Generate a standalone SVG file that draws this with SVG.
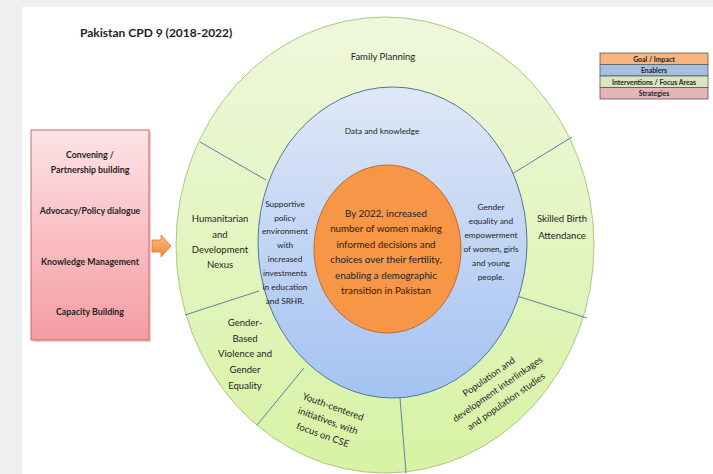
<svg xmlns="http://www.w3.org/2000/svg" width="713" height="474" viewBox="0 0 713 474">
<defs>
<linearGradient id="gGreen" x1="0" y1="0" x2="0" y2="1">
<stop offset="0" stop-color="#eff7dc"/>
<stop offset="1" stop-color="#d7f3a4"/>
</linearGradient>
<linearGradient id="gBlue" x1="0" y1="0" x2="0" y2="1">
<stop offset="0" stop-color="#dfe8f7"/>
<stop offset="1" stop-color="#a4c2f2"/>
</linearGradient>
<linearGradient id="gPink" x1="0" y1="0" x2="0" y2="1">
<stop offset="0" stop-color="#fde3e5"/>
<stop offset="1" stop-color="#f59ca2"/>
</linearGradient>
<linearGradient id="gArrow" x1="0" y1="0" x2="0" y2="1">
<stop offset="0" stop-color="#f9b77e"/>
<stop offset="1" stop-color="#f08a3a"/>
</linearGradient>
</defs>
<style>
text{font-family:Lato,"Liberation Sans",sans-serif;fill:#1e1e1e;text-anchor:middle}
.ring{font-size:9.5px}
.blue{font-size:8.3px}
.core{font-size:9.8px}
.strat{font-size:8.8px;font-weight:bold}
.leg{font-size:6.9px;font-weight:bold}
.div{stroke:#57839f;stroke-width:1;fill:none}
</style>
<rect x="0" y="0" width="713" height="474" fill="#efefef"/>
<rect x="22" y="7" width="691" height="467" fill="#ffffff"/>
<text x="80" y="37" style="font-size:12px;font-weight:bold;text-anchor:start">Pakistan CPD 9 (2018-2022)</text>

<g id="legend">
<rect x="600" y="53" width="108" height="11.5" fill="#f9b47f" stroke="#5a5a5a" stroke-width="0.8"/>
<rect x="600" y="64.5" width="108" height="11.5" fill="#a5bfe1" stroke="#5a5a5a" stroke-width="0.8"/>
<rect x="600" y="76" width="108" height="11.5" fill="#d9e7c1" stroke="#5a5a5a" stroke-width="0.8"/>
<rect x="600" y="87.5" width="108" height="11.5" fill="#e4b4b8" stroke="#5a5a5a" stroke-width="0.8"/>
<text class="leg" x="654" y="61.5">Goal / Impact</text>
<text class="leg" x="654" y="73">Enablers</text>
<text class="leg" x="654" y="84.5">Interventions / Focus Areas</text>
<text class="leg" x="654" y="96">Strategies</text>
</g>

<g id="strategies">
<rect x="33" y="132" width="118" height="210" fill="#d9a0a0" opacity="0.5"/>
<rect x="31" y="130" width="118" height="210" fill="url(#gPink)" stroke="#c9676c" stroke-width="1"/>
<text class="strat" x="90" y="158">Convening /</text>
<text class="strat" x="90" y="173">Partnership building</text>
<text class="strat" x="90" y="214">Advocacy/Policy dialogue</text>
<text class="strat" x="90" y="265">Knowledge Management</text>
<text class="strat" x="90" y="315">Capacity Building</text>
</g>

<g id="focus-areas">
<ellipse cx="385" cy="245" rx="209" ry="228" fill="url(#gGreen)" stroke="#a9c985" stroke-width="1"/>
<line class="div" x1="200" y1="142" x2="266" y2="180"/>
<line class="div" x1="185" y1="315" x2="259" y2="291"/>
<line class="div" x1="257" y1="425" x2="304" y2="368"/>
<line class="div" x1="400" y1="398" x2="406" y2="473"/>
<line class="div" x1="517" y1="296" x2="587" y2="318"/>
<line class="div" x1="512" y1="174" x2="572" y2="137"/>
</g>
<g id="family-planning"><text class="ring" x="383" y="60">Family Planning</text></g>
<g id="humanitarian">
<text class="ring" x="220" y="222">Humanitarian</text>
<text class="ring" x="220" y="238">and</text>
<text class="ring" x="220" y="253">Development</text>
<text class="ring" x="220" y="268">Nexus</text>
</g>
<g id="skilled-birth">
<text class="ring" x="562" y="222">Skilled Birth</text>
<text class="ring" x="562" y="239">Attendance</text>
</g>
<g id="gbv">
<text class="ring" x="245" y="326">Gender-</text>
<text class="ring" x="245" y="342">Based</text>
<text class="ring" x="245" y="357">Violence and</text>
<text class="ring" x="245" y="373">Gender</text>
<text class="ring" x="245" y="389">Equality</text>
</g>
<g id="youth" transform="translate(333,407) rotate(20)">
<text class="ring" x="0" y="3">Youth-centered</text>
<text class="ring" x="0" y="18">initiatives, with</text>
<text class="ring" x="0" y="33">focus on CSE</text>
</g>
<g id="population" transform="translate(489,377) rotate(-35)">
<text class="ring" x="0" y="3" style="font-size:9.3px">Population and</text>
<text class="ring" x="0" y="18" style="font-size:9.3px">development interlinkages</text>
<text class="ring" x="0" y="33" style="font-size:9.3px">and population studies</text>
</g>

<g id="enablers">
<ellipse cx="392.5" cy="242.5" rx="134.5" ry="155.5" fill="url(#gBlue)" stroke="#4f7799" stroke-width="1"/>
</g>
<g id="data-knowledge"><text class="blue" x="382" y="134">Data and knowledge</text></g>
<g id="policy">
<text class="blue" x="285" y="207">Supportive</text>
<text class="blue" x="285" y="221">policy</text>
<text class="blue" x="285" y="234">environment</text>
<text class="blue" x="285" y="248">with</text>
<text class="blue" x="285" y="262">increased</text>
<text class="blue" x="285" y="276">investments</text>
<text class="blue" x="285" y="290">in education</text>
<text class="blue" x="285" y="304">and SRHR.</text>
</g>
<g id="gender-equality">
<text class="blue" x="491" y="210">Gender</text>
<text class="blue" x="491" y="224">equality and</text>
<text class="blue" x="491" y="238">empowerment</text>
<text class="blue" x="491" y="252">of women, girls</text>
<text class="blue" x="491" y="266">and young</text>
<text class="blue" x="491" y="280">people.</text>
</g>

<g id="goal">
<ellipse cx="387.5" cy="249" rx="73.5" ry="84" fill="#f79646" stroke="#c0692c" stroke-width="1"/>
<text class="core" x="386" y="217">By 2022, increased</text>
<text class="core" x="386" y="232">number of women making</text>
<text class="core" x="386" y="248">informed decisions and</text>
<text class="core" x="386" y="263">choices over their fertility,</text>
<text class="core" x="386" y="279">enabling a demographic</text>
<text class="core" x="386" y="294">transition in Pakistan</text>
</g>

<g id="connectors">
<polygon points="152,240 161,240 161,235 171,246 161,257 161,252 152,252" fill="url(#gArrow)" stroke="#e0782a" stroke-width="0.8"/>
</g>
</svg>
